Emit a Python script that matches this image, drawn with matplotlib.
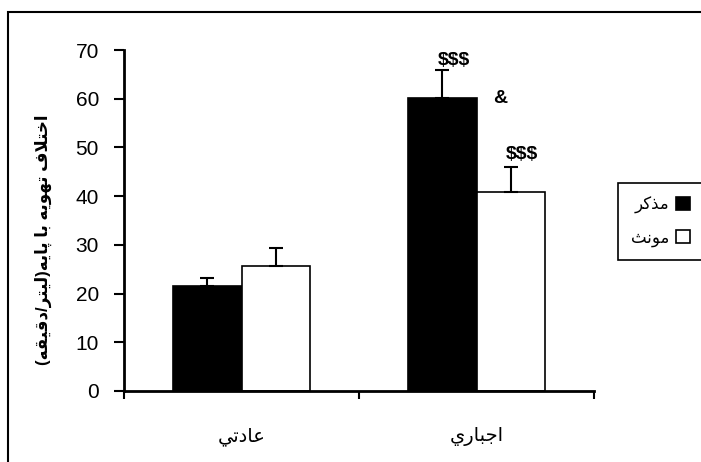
import matplotlib
matplotlib.use('Agg')
import matplotlib.pyplot as plt
from matplotlib.patches import Rectangle
import numpy as np

plt.rcParams['font.family'] = ['Liberation Sans', 'DejaVu Sans']

# data
groups = ['عادتي', 'اجباري']
series = ['مذكر', 'مونث']
male = [21.6, 60.2]
male_err = [1.5, 5.6]
female = [25.7, 40.9]
female_err = [3.6, 5.1]
ylabel = 'اختلاف تهويه با پايه(ليتر/دقيقه)'
# (text, group index, offset from group centre, y)
notes = [('$$$', 1, -0.096, 67.8), ('&', 1, 0.10, 60.0), ('$$$', 1, 0.194, 48.6)]

# simple arabic shaping -> presentation forms, visual order
JOIN = {
    'ا': 0xFE8D, 'ب': 0xFE8F, 'ت': 0xFE95, 'ث': 0xFE99, 'ج': 0xFE9D, 'خ': 0xFEA5,
    'د': 0xFEA9, 'ذ': 0xFEAB, 'ر': 0xFEAD, 'ع': 0xFEC9, 'ف': 0xFED1, 'ق': 0xFED5,
    'ك': 0xFED9, 'ل': 0xFEDD, 'م': 0xFEE1, 'ن': 0xFEE5, 'ه': 0xFEE9, 'و': 0xFEED,
    'ي': 0xFEF1, 'پ': 0xFB56,
}
RIGHT_ONLY = set('ادذرو')
MIRROR = {'(': ')', ')': '('}


def shape(text):
    tokens = []
    i = 0
    while i < len(text):
        if text[i:i + 2] == 'لا':
            tokens.append('LA')
            i += 2
        else:
            tokens.append(text[i])
            i += 1

    def is_letter(t):
        return t in JOIN or t == 'LA'

    def joins_left(t):
        return t in JOIN and t not in RIGHT_ONLY

    out = []
    for k, t in enumerate(tokens):
        if not is_letter(t):
            out.append(MIRROR.get(t, t))
            continue
        prev = tokens[k - 1] if k > 0 else None
        nxt = tokens[k + 1] if k + 1 < len(tokens) else None
        jp = prev is not None and joins_left(prev)
        jn = nxt is not None and is_letter(nxt) and joins_left(t)
        base = 0xFEFB if t == 'LA' else JOIN[t]
        out.append(chr(base + int(jp) + 2 * int(jn)))
    return ''.join(reversed(out))


W, H = 701, 462
fig = plt.figure(figsize=(W / 100, H / 100), dpi=100)
ax = fig.add_axes([124 / W, 1 - 391 / H, (594 - 124) / W, (391 - 50) / H])

# outer frame (only top/left visible)
fig.patches.append(Rectangle((8 / W, -0.1), 1.2, 1 - 12 / H + 0.1, transform=fig.transFigure,
                             fill=False, edgecolor='black', linewidth=1.5))

x = np.arange(len(groups))
w = 0.29
ek = dict(ecolor='black', elinewidth=1.5, capsize=5, capthick=1.5)
ax.bar(x - w / 2, male, w, color='black', edgecolor='black', linewidth=1.2,
       yerr=[np.zeros(2), male_err], error_kw=ek, label=shape(series[0]))
ax.bar(x + w / 2, female, w, color='white', edgecolor='black', linewidth=1.2,
       yerr=[np.zeros(2), female_err], error_kw=ek, label=shape(series[1]))

for txt, g, dx, yv in notes:
    ax.text(x[g] + dx, yv, txt, ha='center', va='center', fontsize=14, fontweight='bold')

ax.set_xlim(-0.5, 1.5)
ax.set_ylim(0, 70)
ax.set_yticks(range(0, 71, 10))
ax.set_xticks(x)
ax.set_xticklabels([shape(g) for g in groups], fontsize=14)
ax.set_xticks([-0.5, 0.5, 1.5], minor=True)
ax.tick_params(axis='x', which='major', length=0, pad=26)
ax.tick_params(axis='x', which='minor', length=6, width=1.5, direction='out')
ax.tick_params(axis='y', length=7, width=1.5, direction='out', labelsize=15, pad=11)
for s in ['top', 'right']:
    ax.spines[s].set_visible(False)
for s in ['left', 'bottom']:
    ax.spines[s].set_linewidth(2)

fig.text(43 / W, 1 - 240 / H, shape(ylabel), rotation=90, ha='center', va='center',
         fontsize=12, fontweight='bold')

leg = ax.legend(loc='upper left', bbox_to_anchor=(618 / W, 1 - 183 / H),
                bbox_transform=fig.transFigure, borderaxespad=0, markerfirst=False,
                fancybox=False, edgecolor='black', framealpha=1, fontsize=12,
                handlelength=0.8, handleheight=0.8, labelspacing=1.0, borderpad=0.8,
                handletextpad=0.4)
leg.get_frame().set_linewidth(1.2)

fig.savefig('out.png', dpi=100)
